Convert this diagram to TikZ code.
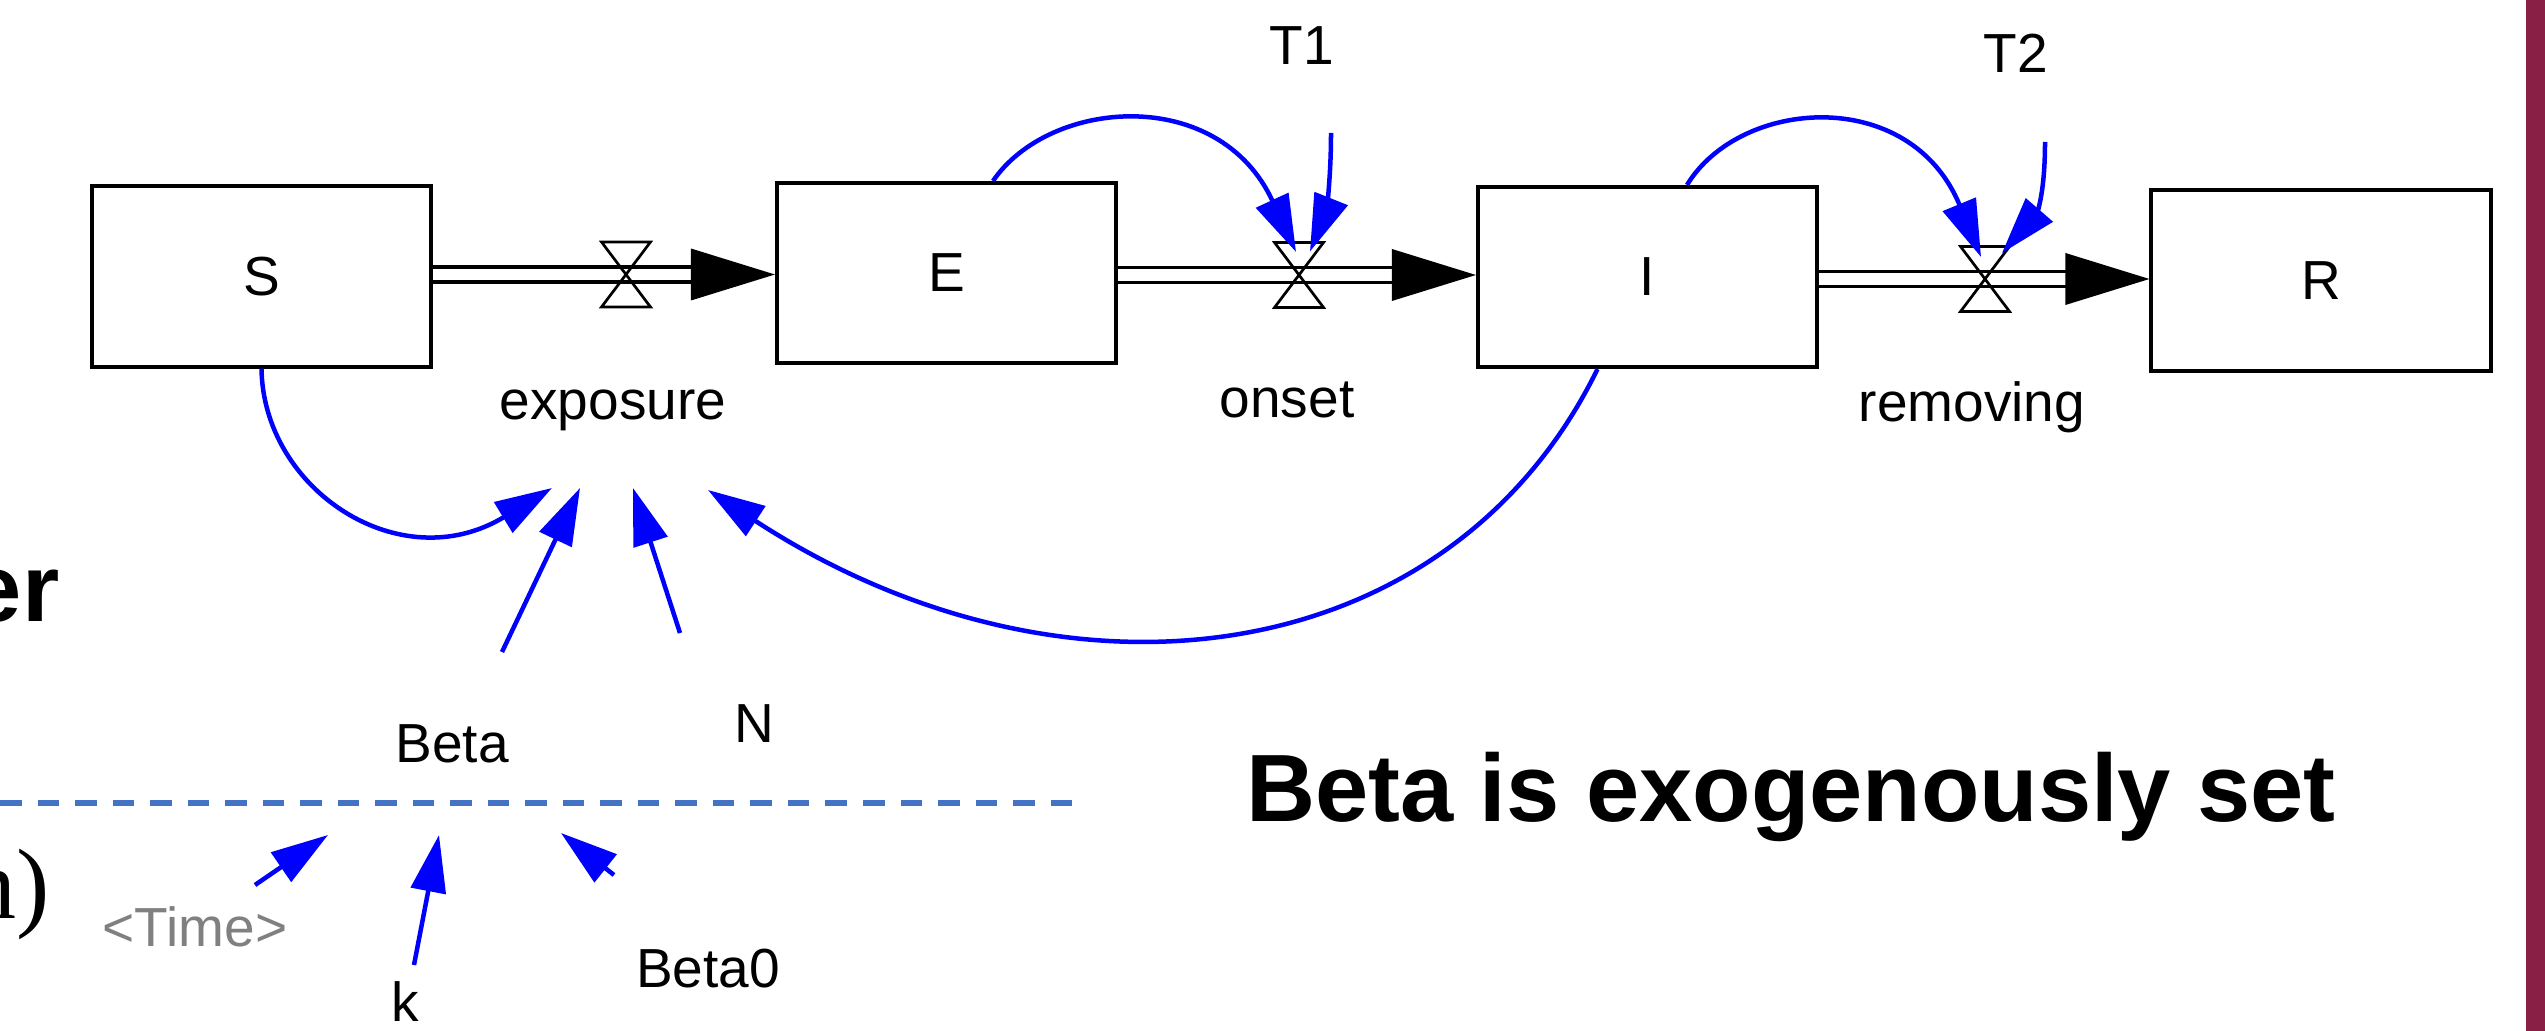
\documentclass[tikz,border=0pt]{standalone}
\usepackage{fontspec}
\setmainfont{Liberation Sans}
\newfontfamily\serifpart{Liberation Serif}
\usetikzlibrary{arrows.meta,calc}
\definecolor{linkblue}{HTML}{0000FF}
\definecolor{guideblue}{HTML}{4472C4}
\definecolor{barred}{HTML}{8A1F45}
\definecolor{shadowvar}{HTML}{808080}
\begin{document}
\begin{tikzpicture}[x=0.01cm,y=-0.01cm,
  lbl/.style={font=\fontsize{15.65pt}{18pt}\selectfont, inner sep=0pt},
  stock/.style={draw, line width=0.04cm, minimum width=3.39cm,
    minimum height=1.80cm, inner sep=0pt, lbl},
  valve/.style={minimum width=0.49cm, minimum height=0.65cm,
    inner sep=0pt, outer sep=0pt},
  valveline/.style={draw=black, line width=0.027cm},
  pipe/.style={line width=0.033cm},
  link/.style={draw=linkblue, line width=0.045cm,
    -{Triangle[length=0.57cm,width=0.35cm]}},
  bigbold/.style={font=\bfseries\fontsize{27.2pt}{30pt}\selectfont, inner sep=0pt}
]
% canvas
\useasboundingbox (0,0) rectangle (2545,1031);
\fill[white] (0,0) rectangle (2545,1031);
\clip (0,0) rectangle (2545,1031);

% stocks
\node[stock] (S) at (261.5,276.5) {S};
\node[stock] (E) at (946.5,273) {E};
\node[stock] (I) at (1647.5,277) {I};
\node[stock] (R) at (2321,280.5) {R};

% valves
\node[valve] (vexp) at (626,274.5) {};
\node[valve] (vons) at (1299,275) {};
\node[valve] (vrem) at (1985,279) {};

% pipes with their heads
\foreach \a/\v/\b in {S/vexp/E, E/vons/I, I/vrem/R}{
  \foreach \dy in {-7.5,7.5}
    \draw[pipe] ($(\a.east |- \v)+(0,\dy)$) -- ($(\b.west |- \v)+(-80,\dy)$);
  \fill ($(\b.west |- \v)$) -- ++(-84,-26) -- ++(0,52) -- cycle;
}
\foreach \v in {vexp, vons, vrem}
  \draw[valveline] (\v.north west) -- (\v.north east) -- (\v.south west) -- (\v.south east) -- cycle;

% flow and auxiliary labels
\node[lbl, anchor=base] (expo) at (613,420) {exposure};
\node[lbl, anchor=base] (onset) at (1287,418) {onset};
\node[lbl, anchor=base] (remov) at (1972,422) {removing};
\node[lbl, anchor=base] (T1) at (1302,65) {T1};
\node[lbl, anchor=base] (T2) at (2016,73) {T2};
\node[lbl, anchor=base] (beta) at (452,763) {Beta};
\node[lbl, anchor=base] (N) at (754,743) {N};
\node[lbl, anchor=base, text=shadowvar] (time) at (195,946) {<Time>};
\node[lbl, anchor=base] (k) at (405,1021) {k};
\node[lbl, anchor=base] (beta0) at (708,987) {Beta0};

% information links
\draw[link] (S.south) .. controls +(1.5,121) and +(-152,92) .. ($(expo.base)+(-61,68)$);
\draw[link] ($(beta.base)+(50,-111)$) -- ($(expo.base)+(-33,68)$);
\draw[link] ($(N.base)+(-74,-110)$) -- ($(expo.base)+(20,68)$);
\draw[link] ($(I.south)+(-50,0)$) .. controls +(-150,306) and +(354,231) .. ($(expo.base)+(95,70)$);

\draw[link] ($(E.north)+(46.5,0)$) .. controls +(57,-83) and +(-77,-167) .. ($(vons.north)+(-3,9.5)$);
\draw[link] ($(T1.base)+(29,68)$) .. controls +(0,57) and +(14,-35) .. ($(vons.north)+(11,9)$);

\draw[link] ($(I.north)+(39.5,0)$) .. controls +(53,-87) and +(-71,-172) .. ($(vrem.north)+(-4,10.5)$);
\draw[link] ($(T2.base)+(29,69)$) .. controls +(0,58) and +(33,-38) .. ($(vrem.north)+(17,6.5)$);

\draw[link] ($(time.base)+(60,-61)$) -- ($(beta.base)+(-124,72)$);
\draw[link] ($(k.base)+(9,-56)$) -- ($(beta.base)+(-13,72)$);
\draw[link] ($(beta0.base)+(-94,-112)$) -- ($(beta.base)+(109,70)$);

% separator
\draw[guideblue, line width=0.05cm, dash pattern=on 0.215cm off 0.16cm] (0,803) -- (1084,803);

% slide text
\node[bigbold, anchor=base] (note) at (1791,822) {Beta is exogenously set};
\node[bigbold, anchor=base east] (frag1) at (60,622) {er};
\node[font=\serifpart\fontsize{28.45pt}{32pt}\selectfont, inner sep=0pt, anchor=base east] (frag2) at (51,918) {n)};

% side bar
\fill[barred] (2526,0) rectangle (2545,1031);
\end{tikzpicture}
\end{document}
